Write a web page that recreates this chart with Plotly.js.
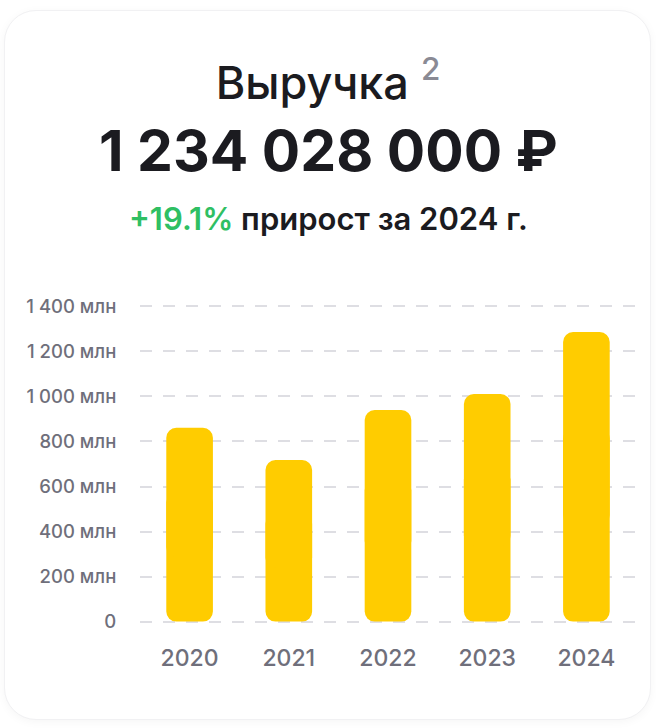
<!DOCTYPE html>
<html>
<head>
<meta charset="utf-8">
<script src="https://cdn.plot.ly/plotly-3.0.1.min.js"></script>
<style>
    html, body { margin: 0; padding: 0; background: #ffffff; }
    #card {
        position: absolute; left: 4px; top: 10px; width: 645px; height: 708px;
        border: 1px solid #f1f1f3; border-radius: 32px;
        box-shadow: 0 2px 10px rgba(0, 0, 0, 0.04);
        background: #ffffff;
    }
    #chart { position: absolute; left: 0; top: 0; width: 656px; height: 728px; }
</style>
</head>
<body>
<div id="card"></div>
<div id="chart"></div>
<script>
const years = ["2020", "2021", "2022", "2023", "2024"];
const revenue_mln = [861, 718, 940, 1011, 1286];

const tick_values = [0, 200, 400, 600, 800, 1000, 1200, 1400];
const tick_labels = ["0", "200 млн", "400 млн", "600 млн", "800 млн",
    "1 000 млн", "1 200 млн", "1 400 млн"];

const total_text = "1 234 028 000 ₽";
const growth_text = "+19.1%";
const growth_label = "прирост за 2024 г.";

const font_family = "Inter, 'Noto Sans', sans-serif";
const bar_color = "#ffcc00";

// plot area in pixels, used to place the header texts
const plot_top = 303;
const plot_bottom = 625;
const paper_y = (py) => (plot_bottom - py) / (plot_bottom - plot_top);

function build_traces() {
    const common = {
        x: years,
        type: "bar",
        width: 0.47,
        marker: { color: bar_color, line: { width: 0 } },
        hoverinfo: "skip",
        showlegend: false
    };
    // two overlapping pieces per bar: one grows up (round top),
    // one grows down to zero (round bottom); the overlap hides the seams
    const upper = Object.assign({}, common, {
        base: revenue_mln.map(v => v / 3),
        y: revenue_mln.map(v => v * 2 / 3)
    });
    const lower = Object.assign({}, common, {
        base: revenue_mln.map(v => v * 2 / 3),
        y: revenue_mln.map(v => -v * 2 / 3)
    });
    return [lower, upper];
}

function build_layout() {
    return {
        width: 656, height: 728,
        margin: { l: 140, r: 20, t: plot_top, b: 728 - plot_bottom, pad: 0 },
        paper_bgcolor: "rgba(0,0,0,0)",
        plot_bgcolor: "rgba(0,0,0,0)",
        barmode: "overlay",
        barcornerradius: 10,
        font: { family: font_family, color: "#6f6f7b" },
        title: {
            text: "Выручка <sup><span style='color:#8a8a94'>2</span></sup>",
            x: 0.5, xref: "container",
            y: 1 - 83 / 728, yref: "container", yanchor: "middle",
            font: { family: font_family, size: 45, weight: 500, color: "#1b1b20" }
        },
        xaxis: {
            type: "category",
            range: [-0.5, 4.5],
            showgrid: false, zeroline: false, showline: false,
            ticks: "outside", ticklen: 12, tickcolor: "rgba(0,0,0,0)",
            tickfont: { size: 23, color: "#6f6f7b", weight: 500 },
            fixedrange: true
        },
        yaxis: {
            range: [-15, 1415],
            tickmode: "array",
            tickvals: tick_values,
            ticktext: tick_labels,
            showgrid: true, gridcolor: "#dedee3", gridwidth: 2, griddash: "12px,11px",
            zeroline: false, showline: false,
            ticks: "outside", ticklen: 19, tickcolor: "rgba(0,0,0,0)",
            tickfont: { size: 18.5, color: "#6f6f7b", weight: 500 },
            fixedrange: true
        },
        annotations: [
            {
                text: total_text,
                xref: "paper", yref: "paper",
                x: (328 - 140) / 496, y: paper_y(150),
                xanchor: "center", yanchor: "middle",
                showarrow: false,
                font: { family: font_family, size: 57, weight: 700, color: "#1b1b20" }
            },
            {
                text: "<span style='color:#2fbf63'>" + growth_text + "</span> " + growth_label,
                xref: "paper", yref: "paper",
                x: (328 - 140) / 496, y: paper_y(218),
                xanchor: "center", yanchor: "middle",
                showarrow: false,
                font: { family: font_family, size: 31, weight: 600, color: "#1b1b20" }
            }
        ]
    };
}

Plotly.newPlot("chart", build_traces(), build_layout(), { displayModeBar: false, staticPlot: true });
</script>
</body>
</html>
